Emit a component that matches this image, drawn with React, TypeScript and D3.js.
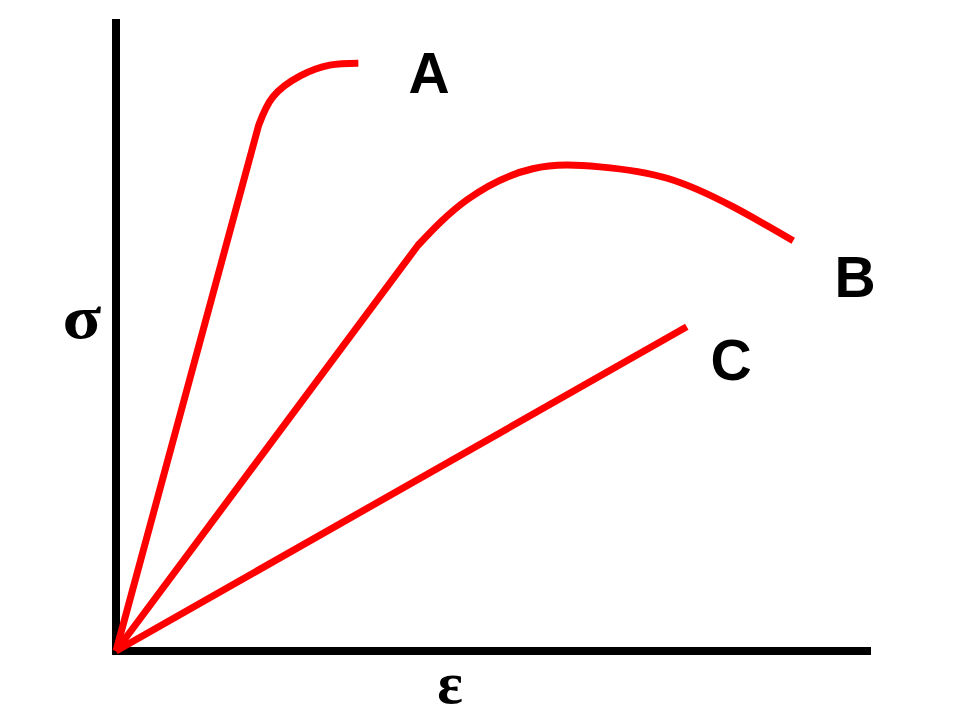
import React from "react";
import * as d3 from "d3";

type P = [number, number];

// strain (x) and stress (y) in arbitrary units 0..100
const curveAStraight: P[] = [[0, 0], [18.9, 83.2]];
const curveAPlastic: P[] = [[18.9, 83.2], [20.8, 87.7], [24.4, 91.0], [28.3, 92.7], [32.1, 93.0]];
const curveBStraight: P[] = [[0, 0], [40.0, 64.2]];
const curveBPlastic: P[] = [[40.0, 64.2], [46.5, 71.4], [55.2, 76.3], [64.1, 76.6], [73.0, 74.8], [81.7, 70.3], [89.7, 64.9]];
const curveCStraight: P[] = [[0, 0], [75.6, 51.3]];
const curveCPlastic: P[] = [];

const seriesNames = ["A", "B", "C"];
const xLabel = "ε";
const yLabel = "σ";

const W = 960, H = 720;
const x = d3.scaleLinear().domain([0, 100]).range([116, 871]);
const y = d3.scaleLinear().domain([0, 100]).range([651, 19]);

const lin = d3.line<P>().x(d => x(d[0])).y(d => y(d[1])).curve(d3.curveLinear);
const smooth = d3.line<P>().x(d => x(d[0])).y(d => y(d[1])).curve(d3.curveNatural);

function pathFor(straight: P[], plastic: P[]): string {
  let d = lin(straight) || "";
  if (plastic.length > 1) {
    const s = smooth(plastic) || "";
    d += s.replace(/^M[^A-Za-z]*/, "");
  }
  return d;
}

const series = [
  { name: seriesNames[0], d: pathFor(curveAStraight, curveAPlastic), lx: 429, ly: 93 },
  { name: seriesNames[1], d: pathFor(curveBStraight, curveBPlastic), lx: 855, ly: 297 },
  { name: seriesNames[2], d: pathFor(curveCStraight, curveCPlastic), lx: 731, ly: 380 },
];

export default function App() {
  const x0 = x(0), y0 = y(0);
  return (
    <svg width={W} height={H} style={{ position: "absolute", left: 0, top: 0, background: "#fff" }}>
      <rect width={W} height={H} fill="#fff" />
      {/* axes */}
      <line x1={x0} x2={x0} y1={y(100)} y2={y0 + 4} stroke="#000" strokeWidth={8} />
      <line x1={x0 - 4} x2={x(100)} y1={y0} y2={y0} stroke="#000" strokeWidth={8} />
      {series.map(s => (
        <path key={s.name} d={s.d} fill="none" stroke="#ff0000" strokeWidth={7} strokeLinejoin="round" />
      ))}
      {series.map(s => (
        <text key={"l" + s.name} x={s.lx} y={s.ly} textAnchor="middle" fontFamily="'Liberation Sans', Arial, sans-serif" fontWeight="bold" fontSize={57} fill="#000">{s.name}</text>
      ))}
      <text transform="translate(82,338) scale(1.15,1)" x={0} y={0} textAnchor="middle" fontFamily="'Liberation Serif', 'Times New Roman', serif" fontWeight="bold" fontSize={62} fill="#000">{yLabel}</text>
      <text x={450} y={703} textAnchor="middle" fontFamily="'Liberation Serif', 'Times New Roman', serif" fontWeight="bold" fontSize={60} fill="#000">{xLabel}</text>
    </svg>
  );
}
